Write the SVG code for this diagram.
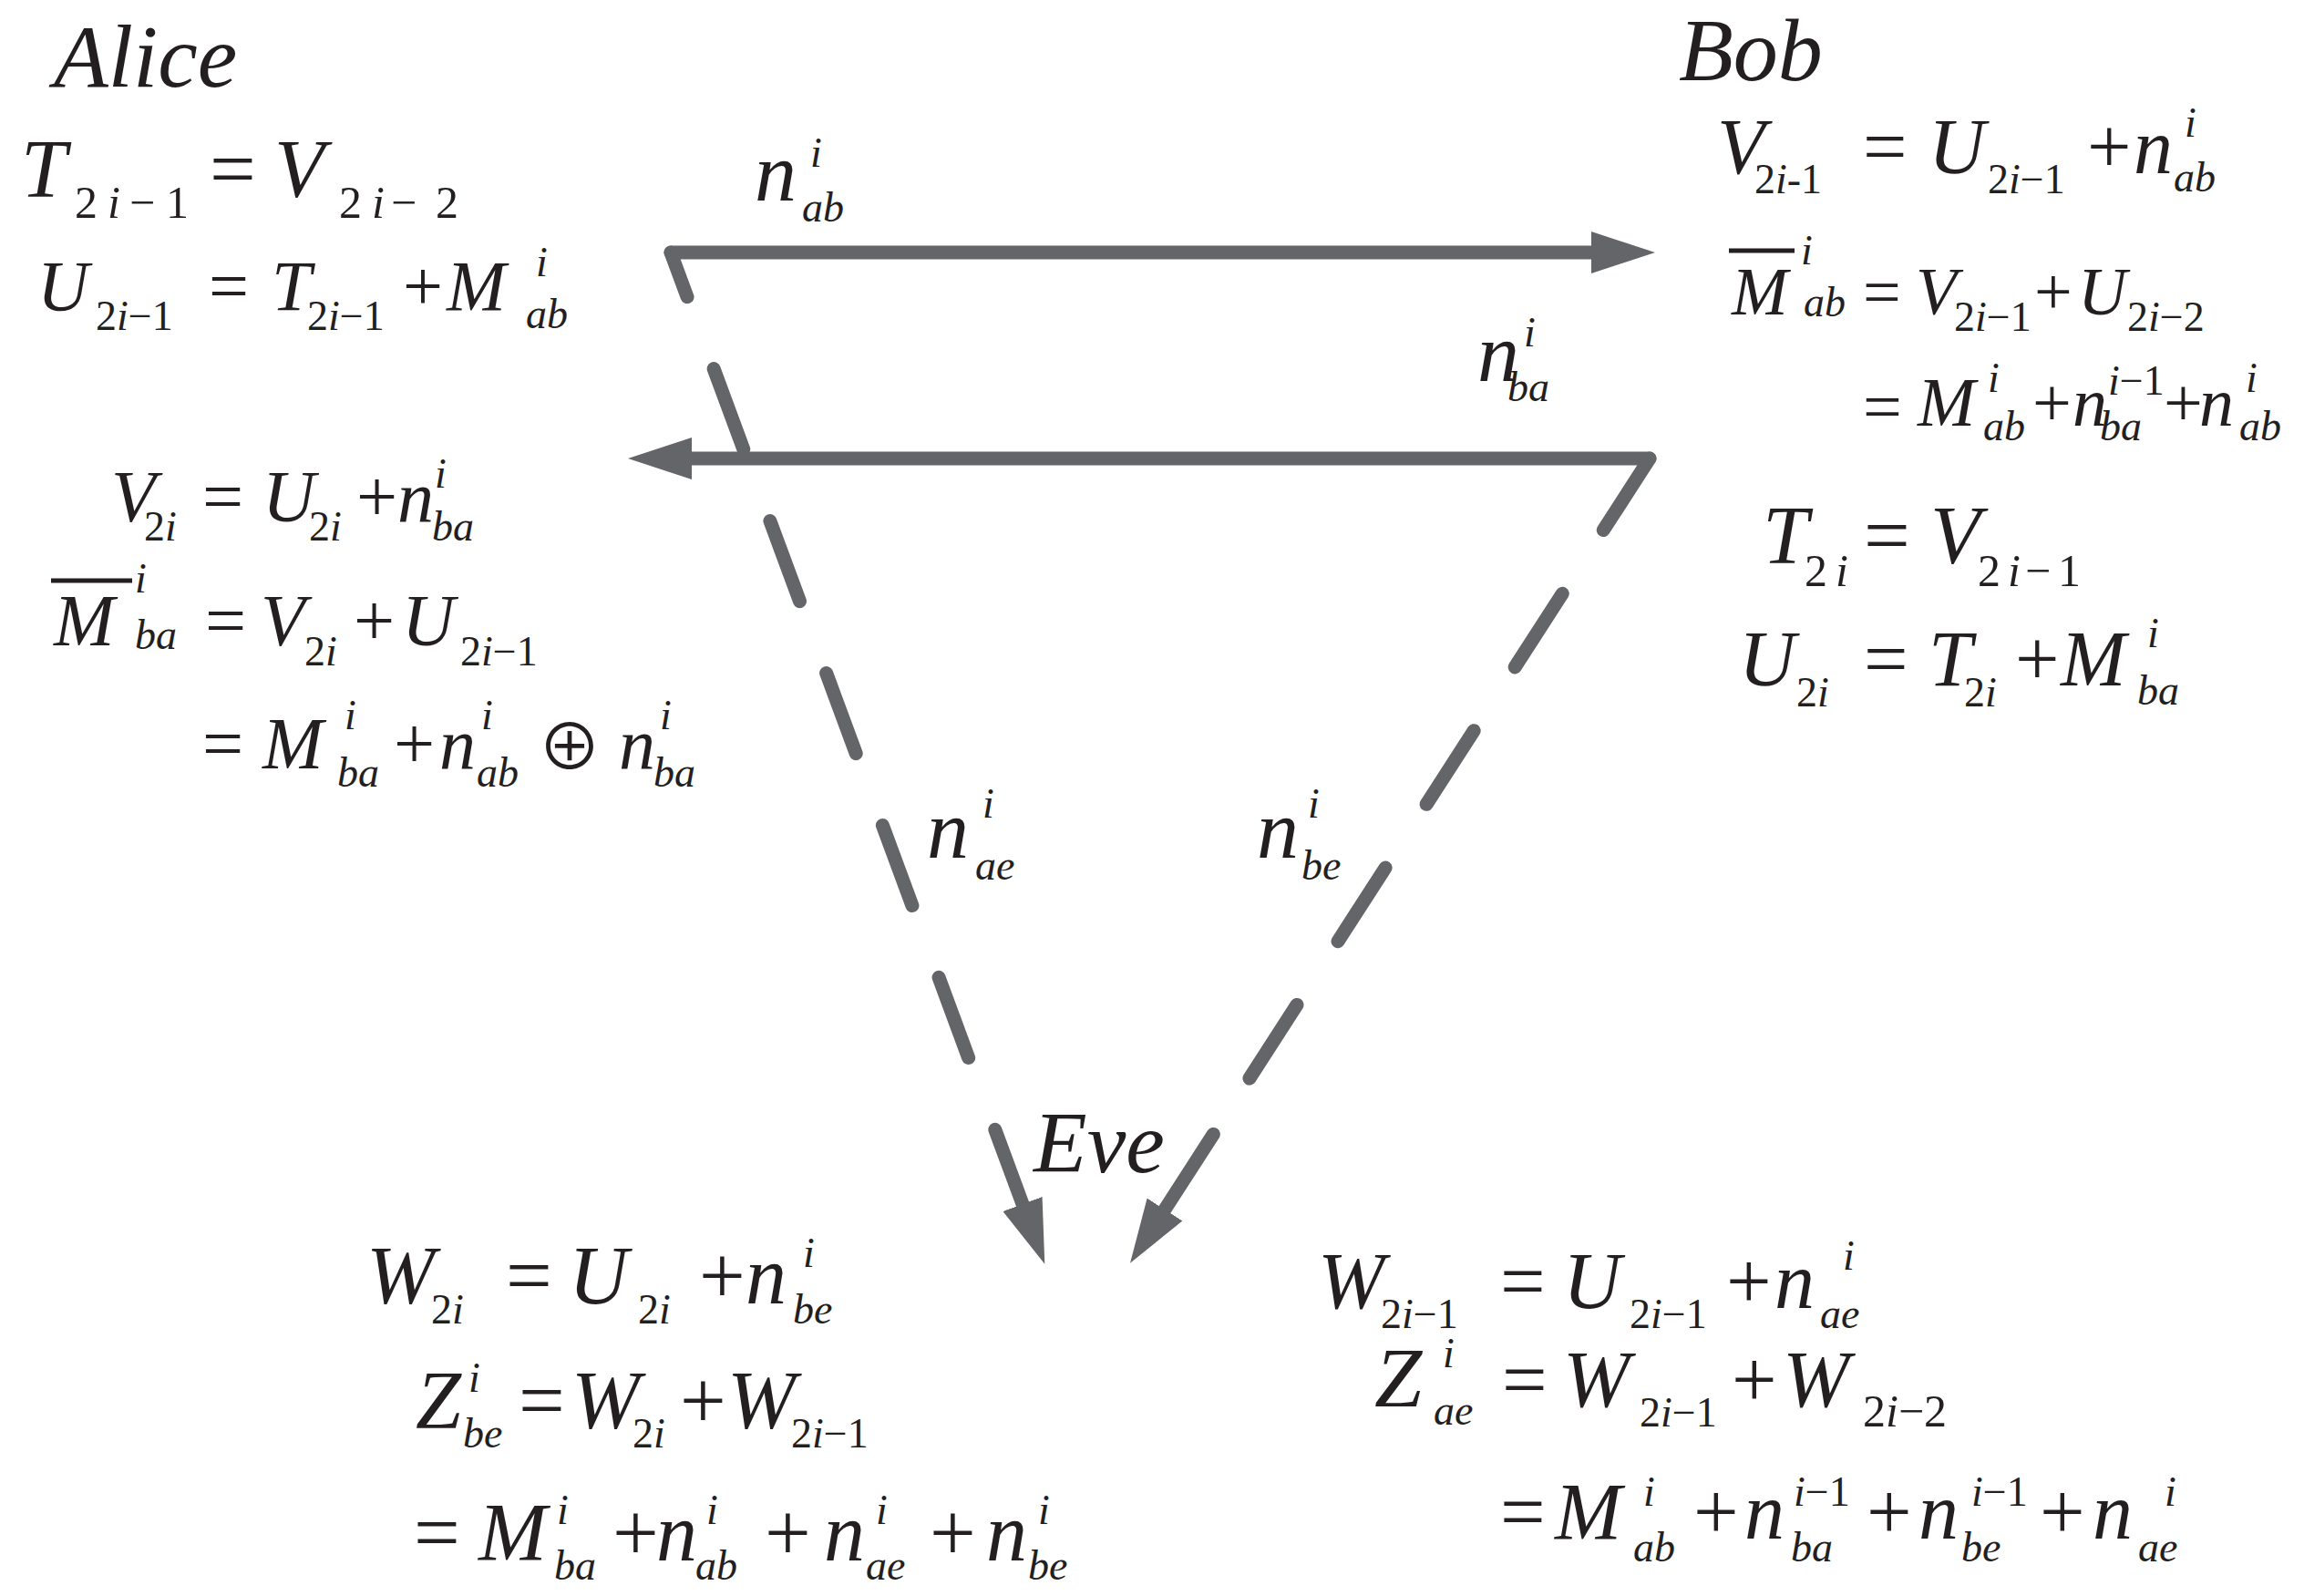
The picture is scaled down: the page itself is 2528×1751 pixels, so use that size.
<svg xmlns="http://www.w3.org/2000/svg" width="2528" height="1751" viewBox="0 0 2528 1751">
<defs>
<style>
.t text{fill:#231f20}
.i{font-style:italic}
.S{font-size:46px}
.c{fill:none;stroke:#646569;stroke-width:15;stroke-linecap:round;stroke-linejoin:round}
.bar{stroke:#231f20;stroke-width:5}
</style>
<marker id="ah" markerUnits="userSpaceOnUse" viewBox="0 0 70 46" markerWidth="70" markerHeight="46" refX="0" refY="23" orient="auto"><path d="M0,0 L70,23 L0,46 Z" fill="#646569"/></marker>
</defs>
<rect width="2528" height="1751" fill="#fff"/>
<g id="connectors">
<line class="c" x1="736" y1="277" x2="1746" y2="277" marker-end="url(#ah)"/>
<line class="c" x1="1810" y1="503" x2="759" y2="503" marker-end="url(#ah)"/>
<path class="c" d="M736,277 L1122,1321" stroke-dasharray="52 84 94 84 94 84 94 84 94 84 94 84 300" marker-end="url(#ah)"/>
<path class="c" d="M1810,503 L1278,1327" stroke-dasharray="93.5 83 96 83 96 83 96 83 96 73 300" marker-end="url(#ah)"/>
<g class="t" font-family="Liberation Serif, Times New Roman, serif">
<g id="label-ab"><text font-size="92"><tspan class="i" x="828" y="220">n</tspan><tspan class="S i" x="889" y="183">i</tspan><tspan class="S i" x="880" y="243">ab</tspan></text></g>
<g id="label-ba"><text font-size="92"><tspan class="i" x="1621" y="418">n</tspan><tspan class="S i" x="1672" y="380">i</tspan><tspan class="S i" x="1654" y="440">ba</tspan></text></g>
<g id="label-ae"><text font-size="92"><tspan class="i" x="1017" y="941">n</tspan><tspan class="S i" x="1078" y="897">i</tspan><tspan class="S i" x="1070" y="965">ae</tspan></text></g>
<g id="label-be"><text font-size="92"><tspan class="i" x="1379" y="941">n</tspan><tspan class="S i" x="1435" y="897">i</tspan><tspan class="S i" x="1428" y="965">be</tspan></text></g>
</g>
</g>
<g id="alice" class="t" font-family="Liberation Serif, Times New Roman, serif">
<text class="i" font-size="98" x="59" y="95">Alice</text>
<text font-size="90"><tspan class="i" x="23" y="216">T</tspan><tspan font-size="50" x="82" y="239">2</tspan><tspan font-size="50" class="i" x="118" y="239">i</tspan><tspan font-size="50" x="142" y="239">−</tspan><tspan font-size="50" x="182" y="239">1</tspan><tspan x="230" y="216">=</tspan><tspan class="i" x="301" y="216">V</tspan><tspan font-size="50" x="372" y="239">2</tspan><tspan font-size="50" class="i" x="408" y="239">i</tspan><tspan font-size="50" x="429" y="239">−</tspan><tspan font-size="50" x="478" y="239">2</tspan></text>
<text font-size="78"><tspan class="i" x="41" y="340">U</tspan><tspan class="S" x="105" y="362">2<tspan class="i">i</tspan>−1</tspan><tspan x="229" y="340">=</tspan><tspan class="i" x="298" y="340">T</tspan><tspan class="S" x="337" y="362">2<tspan class="i">i</tspan>−1</tspan><tspan x="442" y="340">+</tspan><tspan class="i" x="490" y="340">M</tspan><tspan class="S i" x="588" y="303">i</tspan><tspan class="S i" x="577" y="360">ab</tspan></text>
<text font-size="80"><tspan class="i" x="122" y="572">V</tspan><tspan class="S" x="158" y="593">2<tspan class="i">i</tspan></tspan><tspan x="222" y="572">=</tspan><tspan class="i" x="288" y="572">U</tspan><tspan class="S" x="339" y="593">2<tspan class="i">i</tspan></tspan><tspan x="391" y="572">+</tspan><tspan class="i" x="436" y="572">n</tspan><tspan class="S i" x="477" y="535">i</tspan><tspan class="S i" x="474" y="593">ba</tspan></text>
<line class="bar" x1="56" y1="637" x2="145" y2="637"/>
<text font-size="80"><tspan class="i" x="59" y="708">M</tspan><tspan class="S i" x="148" y="650">i</tspan><tspan class="S i" x="148" y="712">ba</tspan><tspan x="225" y="708">=</tspan><tspan class="i" x="286" y="708">V</tspan><tspan class="S" x="334" y="730">2<tspan class="i">i</tspan></tspan><tspan x="388" y="708">+</tspan><tspan class="i" x="441" y="708">U</tspan><tspan class="S" x="505" y="730">2<tspan class="i">i</tspan>−1</tspan></text>
<text font-size="80"><tspan x="222" y="843">=</tspan><tspan class="i" x="288" y="843">M</tspan><tspan class="S i" x="378" y="800">i</tspan><tspan class="S i" x="370" y="863">ba</tspan><tspan x="432" y="843">+</tspan><tspan class="i" x="482" y="843">n</tspan><tspan class="S i" x="528" y="800">i</tspan><tspan class="S i" x="523" y="863">ab</tspan><tspan class="i" x="679" y="843">n</tspan><tspan class="S i" x="724" y="800">i</tspan><tspan class="S i" x="717" y="863">ba</tspan></text>
<text font-family="Noto Sans CJK SC, sans-serif" font-size="70" x="590" y="845">⊕</text>
</g>
<g id="bob" class="t" font-family="Liberation Serif, Times New Roman, serif">
<text class="i" font-size="98" x="1842" y="88">Bob</text>
<text font-size="86"><tspan class="i" x="1884" y="190">V</tspan><tspan class="S" x="1925" y="212">2<tspan class="i">i</tspan>-1</tspan><tspan x="2044" y="190">=</tspan><tspan class="i" x="2116" y="190">U</tspan><tspan class="S" x="2181" y="212">2<tspan class="i">i</tspan>−1</tspan><tspan x="2290" y="190">+</tspan><tspan class="i" x="2341" y="190">n</tspan><tspan class="S i" x="2397" y="150">i</tspan><tspan class="S i" x="2385" y="210">ab</tspan></text>
<line class="bar" x1="1897" y1="275" x2="1969" y2="275"/>
<text font-size="74"><tspan class="i" x="1900" y="345">M</tspan><tspan class="S i" x="1976" y="290">i</tspan><tspan class="S i" x="1979" y="347">ab</tspan><tspan x="2044" y="345">=</tspan><tspan class="i" x="2102" y="345">V</tspan><tspan class="S" x="2144" y="363">2<tspan class="i">i</tspan>−1</tspan><tspan x="2232" y="345">+</tspan><tspan class="i" x="2280" y="345">U</tspan><tspan class="S" x="2334" y="363">2<tspan class="i">i</tspan>−2</tspan></text>
<text font-size="76"><tspan x="2044" y="472">=</tspan><tspan class="i" x="2104" y="467">M</tspan><tspan class="S i" x="2181" y="430">i</tspan><tspan class="S i" x="2176" y="483">ab</tspan><tspan x="2230" y="467">+</tspan><tspan class="i" x="2274" y="467">n</tspan><tspan class="S" x="2313" y="433"><tspan class="i">i</tspan>−1</tspan><tspan class="S i" x="2304" y="483">ba</tspan><tspan x="2374" y="467">+</tspan><tspan class="i" x="2413" y="467">n</tspan><tspan class="S i" x="2464" y="430">i</tspan><tspan class="S i" x="2457" y="483">ab</tspan></text>
<text font-size="90"><tspan class="i" x="1934" y="618">T</tspan><tspan font-size="50" x="1980" y="643">2</tspan><tspan font-size="50" class="i" x="2014" y="643">i</tspan><tspan x="2045" y="618">=</tspan><tspan class="i" x="2118" y="618">V</tspan><tspan font-size="50" x="2170" y="643">2</tspan><tspan font-size="50" class="i" x="2203" y="643">i</tspan><tspan font-size="50" x="2222" y="643">−</tspan><tspan font-size="50" x="2258" y="643">1</tspan></text>
<text font-size="86"><tspan class="i" x="1908" y="752">U</tspan><tspan class="S" x="1971" y="775">2<tspan class="i">i</tspan></tspan><tspan x="2045" y="752">=</tspan><tspan class="i" x="2116" y="752">T</tspan><tspan class="S" x="2155" y="775">2<tspan class="i">i</tspan></tspan><tspan x="2211" y="752">+</tspan><tspan class="i" x="2261" y="752">M</tspan><tspan class="S i" x="2356" y="710">i</tspan><tspan class="S i" x="2345" y="773">ba</tspan></text>
</g>
<g id="eve" class="t" font-family="Liberation Serif, Times New Roman, serif">
<text class="i" font-size="96" x="1134" y="1286">Eve</text>
<text font-size="90"><tspan class="i" x="402" y="1430">W</tspan><tspan class="S" x="473" y="1452">2<tspan class="i">i</tspan></tspan><tspan x="555" y="1430">=</tspan><tspan class="i" x="624" y="1430">U</tspan><tspan class="S" x="700" y="1452">2<tspan class="i">i</tspan></tspan><tspan x="767" y="1430">+</tspan><tspan class="i" x="818" y="1430">n</tspan><tspan class="S i" x="881" y="1390">i</tspan><tspan class="S i" x="870" y="1452">be</tspan></text>
<text font-size="90"><tspan class="i" x="456" y="1567">Z</tspan><tspan class="S i" x="514" y="1527">i</tspan><tspan class="S i" x="508" y="1588">be</tspan><tspan x="569" y="1567">=</tspan><tspan class="i" x="627" y="1567">W</tspan><tspan class="S" x="694" y="1588">2<tspan class="i">i</tspan></tspan><tspan x="746" y="1567">+</tspan><tspan class="i" x="798" y="1567">W</tspan><tspan class="S" x="868" y="1588">2<tspan class="i">i</tspan>−1</tspan></text>
<text font-size="90"><tspan x="454" y="1712">=</tspan><tspan class="i" x="525" y="1712">M</tspan><tspan class="S i" x="611" y="1672">i</tspan><tspan class="S i" x="608" y="1733">ba</tspan><tspan x="672" y="1712">+</tspan><tspan class="i" x="720" y="1712">n</tspan><tspan class="S i" x="775" y="1672">i</tspan><tspan class="S i" x="763" y="1733">ab</tspan><tspan x="839" y="1712">+</tspan><tspan class="i" x="904" y="1712">n</tspan><tspan class="S i" x="961" y="1672">i</tspan><tspan class="S i" x="950" y="1733">ae</tspan><tspan x="1020" y="1712">+</tspan><tspan class="i" x="1082" y="1712">n</tspan><tspan class="S i" x="1139" y="1672">i</tspan><tspan class="S i" x="1128" y="1733">be</tspan></text>
<text font-size="88"><tspan class="i" x="1446" y="1435">W</tspan><tspan class="S" x="1515" y="1457">2<tspan class="i">i</tspan>−1</tspan><tspan x="1646" y="1435">=</tspan><tspan class="i" x="1715" y="1435">U</tspan><tspan class="S" x="1788" y="1457">2<tspan class="i">i</tspan>−1</tspan><tspan x="1894" y="1435">+</tspan><tspan class="i" x="1947" y="1435">n</tspan><tspan class="S i" x="2022" y="1393">i</tspan><tspan class="S i" x="1997" y="1457">ae</tspan></text>
<text font-size="88"><tspan class="i" font-size="94" x="1508" y="1543">Z</tspan><tspan class="S i" x="1583" y="1500">i</tspan><tspan class="S i" x="1573" y="1563">ae</tspan><tspan x="1648" y="1543">=</tspan><tspan class="i" x="1715" y="1543">W</tspan><tspan class="S" x="1799" y="1565">2<tspan class="i">i</tspan>−1</tspan><tspan x="1900" y="1543">+</tspan><tspan class="i" x="1956" y="1543">W</tspan><tspan font-size="50" x="2044" y="1565">2<tspan class="i">i</tspan>−2</tspan></text>
<text font-size="88"><tspan x="1646" y="1688">=</tspan><tspan class="i" x="1706" y="1688">M</tspan><tspan class="S i" x="1803" y="1652">i</tspan><tspan class="S i" x="1792" y="1713">ab</tspan><tspan x="1858" y="1688">+</tspan><tspan class="i" x="1914" y="1688">n</tspan><tspan class="S" x="1968" y="1652"><tspan class="i">i</tspan>−1</tspan><tspan class="S i" x="1965" y="1713">ba</tspan><tspan x="2048" y="1688">+</tspan><tspan class="i" x="2105" y="1688">n</tspan><tspan class="S" x="2163" y="1652"><tspan class="i">i</tspan>−1</tspan><tspan class="S i" x="2152" y="1713">be</tspan><tspan x="2238" y="1688">+</tspan><tspan class="i" x="2296" y="1688">n</tspan><tspan class="S i" x="2375" y="1652">i</tspan><tspan class="S i" x="2346" y="1713">ae</tspan></text>
</g>
</svg>
